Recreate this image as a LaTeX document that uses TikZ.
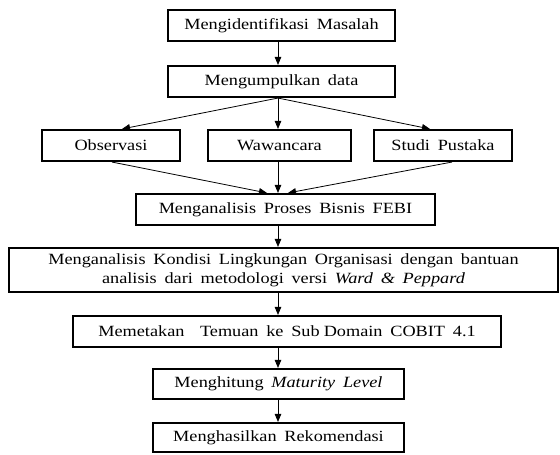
\documentclass[tikz,border=0pt]{standalone}
\usepackage{graphicx}
\usepackage{fontspec}
\setmainfont{Liberation Serif}[WordSpace=1.7]
\usetikzlibrary{arrows.meta}
\newcommand{\sx}[1]{\scalebox{1.17}[1]{#1}}
\begin{document}
\begin{tikzpicture}[x=1pt,y=-1pt,
  box/.style={draw, line width=1.6pt, minimum height=31.5pt, inner sep=0pt,
    font=\fontsize{15.6}{19}\selectfont, align=center},
  arr/.style={line width=0.8pt, -{Triangle[length=8pt,width=6.5pt]}}]
\useasboundingbox (0,0) rectangle (560,455);
\coordinate (ax) at (278,0);
\node[box, minimum width=227pt] (b1) at (281.5,25.5) {\sx{Mengidentifikasi Masalah}};
\node[box, minimum width=227pt] (b2) at (281.5,81.5) {\sx{Mengumpulkan data}};
\node[box, minimum width=138pt] (obs) at (111,145.5) {\sx{Observasi}};
\node[box, minimum width=143pt] (waw) at (279.5,145.5) {\sx{Wawancara}};
\node[box, minimum width=138pt] (stu) at (443,145.5) {\sx{Studi Pustaka}};
\node[box, minimum width=299pt] (febi) at (285.5,209.5) {\sx{Menganalisis Proses Bisnis FEBI}};
\node[box, minimum width=549pt, minimum height=44.5pt] (kond) at (283.5,270)
  {\sx{Menganalisis Kondisi Lingkungan Organisasi dengan bantuan}\\\sx{analisis dari metodologi versi \textit{Ward \& Peppard}}};
\node[box, minimum width=428pt] (map) at (287,331.5) {\sx{Memetakan\ \ Temuan ke Sub\hspace{-0.2em} Domain COBIT 4.1}};
\node[box, minimum width=251pt, minimum height=30.5pt] (mat) at (278.5,384) {\sx{Menghitung \textit{Maturity Level}}};
\node[box, minimum width=251pt, minimum height=29.5pt] (rek) at (278.5,437.5) {\sx{Menghasilkan Rekomendasi}};
\draw[arr] (b1.south -| ax) -- (b2.north -| ax);
\draw[arr] (b2.south -| ax) -- ([xshift=11pt]obs.north);
\draw[arr] (b2.south -| ax) -- (waw.north -| ax);
\draw[arr] (b2.south -| ax) -- ([xshift=-13pt]stu.north);
\draw[arr] ([xshift=1pt]obs.south) -- ([xshift=-18.5pt]febi.north);
\draw[arr] (waw.south -| ax) -- (febi.north -| ax);
\draw[arr] ([xshift=9pt]stu.south) -- ([xshift=2.5pt]febi.north);
\draw[arr] (febi.south -| ax) -- (kond.north -| ax);
\draw[arr] (kond.south -| ax) -- (map.north -| ax);
\draw[arr] (map.south -| ax) -- (mat.north -| ax);
\draw[arr] (mat.south -| ax) -- (rek.north -| ax);
\end{tikzpicture}
\end{document}
